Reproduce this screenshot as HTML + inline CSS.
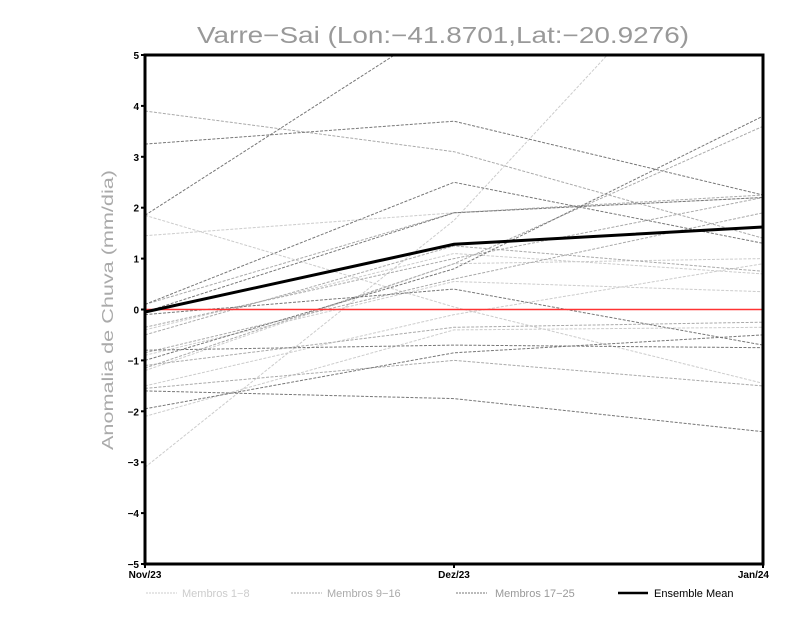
<!DOCTYPE html>
<html><head><meta charset="utf-8"><style>
html,body{margin:0;padding:0;background:#fff;}
svg{display:block;font-family:"Liberation Sans",sans-serif;}
</style></head><body>
<svg id="chart" width="800" height="618" viewBox="0 0 800 618" xmlns="http://www.w3.org/2000/svg">
<defs><clipPath id="pc"><rect x="145" y="55" width="618" height="509"/></clipPath></defs>
<text x="197" y="43" font-size="23" fill="#999" textLength="492" lengthAdjust="spacingAndGlyphs">Varre−Sai (Lon:−41.8701,Lat:−20.9276)</text>
<text transform="translate(113,310) rotate(-90)" text-anchor="middle" font-size="16" fill="#aaa" textLength="280" lengthAdjust="spacingAndGlyphs">Anomalia de Chuva (mm/dia)</text>
<g id="members" clip-path="url(#pc)"></g>
<line x1="145" x2="763" y1="309.5" y2="309.5" stroke="#f33" stroke-width="1.5"/>
<polyline id="mean" fill="none" stroke="#000" stroke-width="3"/>
<rect x="145" y="55" width="618" height="509" fill="none" stroke="#000" stroke-width="3"/>
<g id="yticks"></g>
<g id="xticks"></g>
<g font-size="11">
<line x1="146" x2="177" y1="593" y2="593" stroke="#ccc" stroke-dasharray="2,1"/>
<text x="182" y="597" fill="#ccc">Membros 1−8</text>
<line x1="291" x2="322" y1="593" y2="593" stroke="#aaa" stroke-dasharray="2,1"/>
<text x="327" y="597" fill="#aaa">Membros 9−16</text>
<line x1="456" x2="487" y1="593" y2="593" stroke="#777" stroke-dasharray="2,1"/>
<text x="495" y="597" fill="#999">Membros 17−25</text>
<line x1="618" x2="648" y1="593" y2="593" stroke="#000" stroke-width="2.5"/>
<text x="654" y="597" fill="#000">Ensemble Mean</text>
</g>
</svg>
<script>
const months = ["Nov/23","Dez/23","Jan/24"];
const yTickValues = [-5,-4,-3,-2,-1,0,1,2,3,4,5];
const members1to8 = [
 [-3.1,1.75,8.3],[1.85,0.05,-1.45],[1.45,1.9,2.2],[-2.1,-0.4,-0.35],
 [-1.5,-0.1,0.9],[-0.4,1.1,0.7],[-0.9,0.55,0.35],[-1.2,0.9,1.0]];
const members9to16 = [
 [3.9,3.1,1.4],[-1.15,0.9,3.6],[-0.35,1.0,2.2],[-0.85,0.6,1.9],
 [-1.55,-1.0,-1.5],[-1.1,-0.35,-0.25],[-0.5,1.25,0.75],[0.1,1.9,2.25]];
const members17to25 = [
 [1.85,5.75,6.5],[3.25,3.7,2.25],[0.1,2.5,1.3],[-0.05,1.9,2.2],
 [-0.8,-0.7,-0.75],[-1.6,-1.75,-2.4],[-1.95,-0.85,-0.5],[-1.0,0.8,3.8],[-0.1,0.4,-0.7]];
const ensembleMean = [-0.05,1.28,1.62];

const X0=145,X1=763,Y0=564,Y1=55,NS="http://www.w3.org/2000/svg";
const xs=i=>X0+(X1-X0)*i/(months.length-1);
const ys=v=>Y0-(v+5)/10*(Y0-Y1);
const pts=a=>a.map((v,i)=>xs(i).toFixed(1)+","+ys(v).toFixed(1)).join(" ");
const mg=document.getElementById("members");
function draw(arr,color,name){
 arr.forEach((m,k)=>{
  const p=document.createElementNS(NS,"polyline");
  p.setAttribute("points",pts(m));
  p.setAttribute("fill","none");p.setAttribute("stroke",color);
  p.setAttribute("stroke-width","1");p.setAttribute("stroke-dasharray","3,1.5");
  
  
  mg.appendChild(p);
 });
}
draw(members1to8,"#ccc","member-light");
draw(members9to16,"#aaa","member-medium");
draw(members17to25,"#777","member-dark");
document.getElementById("mean").setAttribute("points",pts(ensembleMean));
const yg=document.getElementById("yticks");
yTickValues.forEach(v=>{
 const y=ys(v);
 const l=document.createElementNS(NS,"line");
 l.setAttribute("x1",141);l.setAttribute("x2",145);l.setAttribute("y1",y);l.setAttribute("y2",y);
 l.setAttribute("stroke","#000");l.setAttribute("stroke-width","2");
 
 
 yg.appendChild(l);
 const t=document.createElementNS(NS,"text");
 t.setAttribute("x",139);t.setAttribute("y",y+4);t.setAttribute("text-anchor","end");
 t.setAttribute("font-size","10");t.setAttribute("font-weight","bold");
 t.textContent=String(v).replace("-","−");
 
 
 yg.appendChild(t);
});
const xg=document.getElementById("xticks");
months.forEach((m,i)=>{
 const x=xs(i);
 const l=document.createElementNS(NS,"line");
 l.setAttribute("x1",x);l.setAttribute("x2",x);l.setAttribute("y1",564);l.setAttribute("y2",568);
 l.setAttribute("stroke","#000");l.setAttribute("stroke-width","2");
 
 
 xg.appendChild(l);
 const t=document.createElementNS(NS,"text");
 t.setAttribute("x",x);t.setAttribute("y",578);t.setAttribute("text-anchor",i==months.length-1?"end":"middle");
 if(i==months.length-1)t.setAttribute("x",x+6);
 t.setAttribute("font-size","10");t.setAttribute("font-weight","bold");
 t.textContent=m;
 
 
 xg.appendChild(t);
});
</script>
</body></html>
